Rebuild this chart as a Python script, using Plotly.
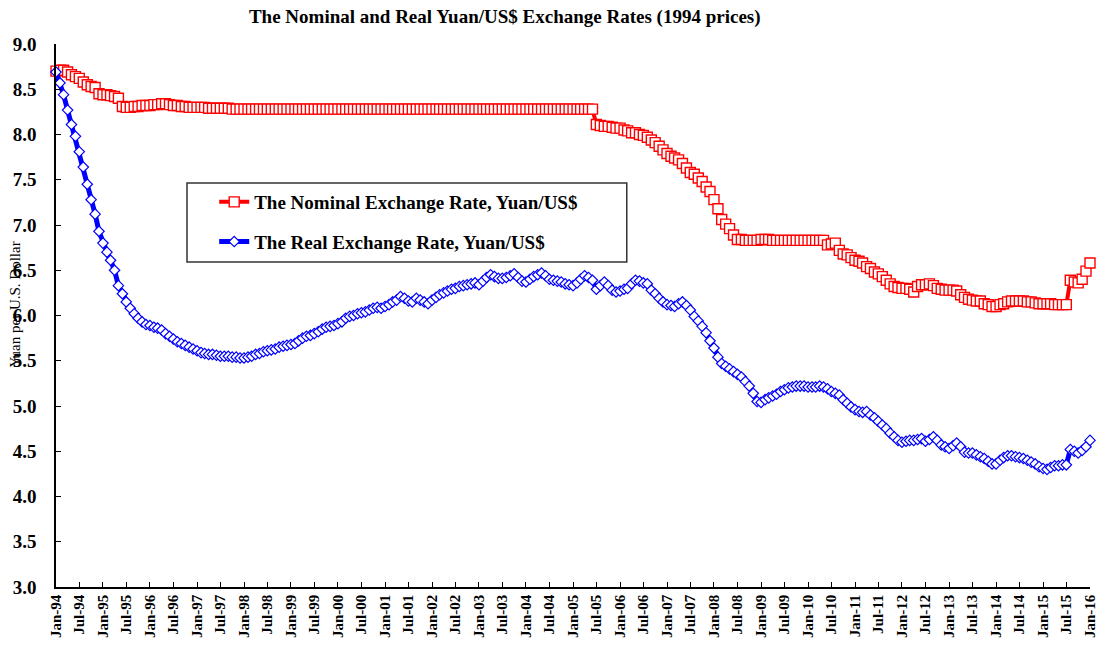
import pandas as pd
import plotly.graph_objects as go

# monthly readings, Jan-94 .. Jan-16 (one row per year)
nominal_rate = [
    8.70, 8.71, 8.71, 8.69, 8.66, 8.64, 8.62, 8.58, 8.55, 8.53, 8.52, 8.45,  # 1994
    8.44, 8.44, 8.43, 8.42, 8.40, 8.31, 8.30, 8.30, 8.31, 8.31, 8.32, 8.32,  # 1995
    8.32, 8.33, 8.33, 8.34, 8.34, 8.33, 8.32, 8.32, 8.31, 8.31, 8.30, 8.30,  # 1996
    8.30, 8.30, 8.30, 8.29, 8.29, 8.29, 8.29, 8.29, 8.29, 8.28, 8.28, 8.28,  # 1997
    8.28, 8.28, 8.28, 8.28, 8.28, 8.28, 8.28, 8.28, 8.28, 8.28, 8.28, 8.28,  # 1998
    8.28, 8.28, 8.28, 8.28, 8.28, 8.28, 8.28, 8.28, 8.28, 8.28, 8.28, 8.28,  # 1999
    8.28, 8.28, 8.28, 8.28, 8.28, 8.28, 8.28, 8.28, 8.28, 8.28, 8.28, 8.28,  # 2000
    8.28, 8.28, 8.28, 8.28, 8.28, 8.28, 8.28, 8.28, 8.28, 8.28, 8.28, 8.28,  # 2001
    8.28, 8.28, 8.28, 8.28, 8.28, 8.28, 8.28, 8.28, 8.28, 8.28, 8.28, 8.28,  # 2002
    8.28, 8.28, 8.28, 8.28, 8.28, 8.28, 8.28, 8.28, 8.28, 8.28, 8.28, 8.28,  # 2003
    8.28, 8.28, 8.28, 8.28, 8.28, 8.28, 8.28, 8.28, 8.28, 8.28, 8.28, 8.28,  # 2004
    8.28, 8.28, 8.28, 8.28, 8.28, 8.28, 8.11, 8.10, 8.09, 8.09, 8.08, 8.07,  # 2005
    8.07, 8.05, 8.04, 8.02, 8.02, 8.00, 7.99, 7.97, 7.94, 7.91, 7.87, 7.83,  # 2006
    7.79, 7.76, 7.74, 7.72, 7.68, 7.63, 7.58, 7.56, 7.52, 7.48, 7.42, 7.37,  # 2007
    7.28, 7.18, 7.06, 7.01, 6.96, 6.89, 6.84, 6.84, 6.83, 6.83, 6.83, 6.83,  # 2008
    6.84, 6.84, 6.84, 6.83, 6.83, 6.83, 6.83, 6.83, 6.83, 6.83, 6.83, 6.83,  # 2009
    6.83, 6.83, 6.83, 6.83, 6.83, 6.78, 6.79, 6.80, 6.72, 6.68, 6.67, 6.64,  # 2010
    6.61, 6.60, 6.58, 6.54, 6.52, 6.48, 6.46, 6.43, 6.39, 6.35, 6.32, 6.31,  # 2011
    6.30, 6.30, 6.29, 6.26, 6.32, 6.34, 6.34, 6.35, 6.33, 6.30, 6.29, 6.28,  # 2012
    6.28, 6.28, 6.27, 6.23, 6.20, 6.18, 6.17, 6.16, 6.16, 6.13, 6.12, 6.10,  # 2013
    6.10, 6.12, 6.13, 6.15, 6.16, 6.16, 6.16, 6.16, 6.15, 6.15, 6.14, 6.13,  # 2014
    6.13, 6.13, 6.13, 6.12, 6.12, 6.12, 6.12, 6.39, 6.37, 6.36, 6.40, 6.49,  # 2015
    6.58,                                                                    # 2016
]

real_rate = [
    8.69, 8.57, 8.44, 8.27, 8.11, 7.98, 7.81, 7.64, 7.45, 7.28, 7.12, 6.93,  # 1994
    6.80, 6.70, 6.61, 6.50, 6.33, 6.24, 6.15, 6.08, 6.02, 5.97, 5.93, 5.90,  # 1995
    5.89, 5.87, 5.86, 5.84, 5.80, 5.77, 5.74, 5.71, 5.69, 5.67, 5.65, 5.63,  # 1996
    5.61, 5.59, 5.58, 5.57, 5.57, 5.56, 5.55, 5.55, 5.55, 5.54, 5.54, 5.53,  # 1997
    5.53, 5.54, 5.55, 5.57, 5.58, 5.60, 5.61, 5.62, 5.63, 5.65, 5.66, 5.67,  # 1998
    5.68, 5.69, 5.72, 5.75, 5.77, 5.78, 5.80, 5.82, 5.85, 5.87, 5.88, 5.89,  # 1999
    5.91, 5.93, 5.97, 5.99, 6.00, 6.02, 6.03, 6.04, 6.06, 6.08, 6.09, 6.08,  # 2000
    6.10, 6.12, 6.15, 6.17, 6.21, 6.19, 6.16, 6.15, 6.19, 6.17, 6.15, 6.13,  # 2001
    6.17, 6.20, 6.23, 6.25, 6.27, 6.29, 6.30, 6.32, 6.33, 6.34, 6.35, 6.36,  # 2002
    6.34, 6.38, 6.42, 6.45, 6.43, 6.41, 6.41, 6.42, 6.44, 6.46, 6.42, 6.38,  # 2003
    6.37, 6.40, 6.43, 6.45, 6.47, 6.44, 6.40, 6.39, 6.38, 6.37, 6.35, 6.34,  # 2004
    6.33, 6.36, 6.40, 6.44, 6.42, 6.39, 6.29, 6.33, 6.37, 6.33, 6.28, 6.26,  # 2005
    6.27, 6.29, 6.30, 6.35, 6.39, 6.38, 6.36, 6.35, 6.28, 6.24, 6.19, 6.15,  # 2006
    6.12, 6.11, 6.10, 6.13, 6.15, 6.11, 6.06, 5.99, 5.94, 5.88, 5.81, 5.72,  # 2007
    5.64, 5.54, 5.47, 5.44, 5.41, 5.38, 5.35, 5.32, 5.27, 5.22, 5.14, 5.05,  # 2008
    5.04, 5.07, 5.09, 5.11, 5.13, 5.16, 5.18, 5.20, 5.21, 5.22, 5.22, 5.22,  # 2009
    5.21, 5.21, 5.21, 5.22, 5.21, 5.19, 5.16, 5.14, 5.12, 5.07, 5.03, 4.99,  # 2010
    4.96, 4.94, 4.93, 4.94, 4.90, 4.87, 4.83, 4.79, 4.75, 4.70, 4.66, 4.62,  # 2011
    4.60, 4.61, 4.62, 4.62, 4.63, 4.64, 4.61, 4.63, 4.66, 4.62, 4.57, 4.55,  # 2012
    4.53, 4.56, 4.59, 4.55, 4.49, 4.48, 4.48, 4.46, 4.44, 4.42, 4.39, 4.36,  # 2013
    4.36, 4.40, 4.43, 4.45, 4.45, 4.44, 4.43, 4.42, 4.40, 4.38, 4.36, 4.33,  # 2014
    4.31, 4.30, 4.32, 4.34, 4.34, 4.35, 4.35, 4.52, 4.50, 4.48, 4.51, 4.55,  # 2015
    4.62,                                                                    # 2016
]

months = pd.date_range("1994-01-01", periods=len(nominal_rate), freq="MS")

TITLE = "The Nominal and Real Yuan/US$ Exchange Rates (1994 prices)"
Y_TITLE = "Yuan per U.S. Dollar"
SERIF = "Liberation Serif"

fig = go.Figure()
fig.add_trace(go.Scatter(
    x=months, y=nominal_rate, name="The Nominal Exchange Rate, Yuan/US$",
    mode="lines+markers", cliponaxis=False, legendgroup="a",
    line=dict(color="#ff0000", width=4),
    marker=dict(symbol="square", size=10, color="white", line=dict(color="#ff0000", width=1.4)),
))
fig.add_trace(go.Scatter(
    x=months, y=real_rate, name="The Real Exchange Rate, Yuan/US$",
    mode="lines+markers", cliponaxis=False, legendgroup="b",
    line=dict(color="#0000ff", width=5),
    marker=dict(symbol="diamond", size=8, color="white", line=dict(color="#0000ff", width=1.2)),
))

# legend frame
fig.add_shape(type="rect", xref="paper", yref="paper", x0=0.1267, x1=0.552, y0=0.5985, y1=0.744,
              line=dict(color="#333333", width=1.5), fillcolor="rgba(0,0,0,0)")

fig.add_annotation(text=Y_TITLE, xref="paper", yref="paper", x=-0.0397, y=0.52,
                   xanchor="center", yanchor="middle", textangle=-90, showarrow=False,
                   font=dict(family=SERIF, size=15, color="black"))

fig.update_layout(
    width=1105, height=649,
    margin=dict(l=56, r=15, t=44, b=62),
    paper_bgcolor="white", plot_bgcolor="white",
    font=dict(family=SERIF, color="black"),
    title=dict(text=f"<b>{TITLE}</b>", xref="paper", x=0.434, xanchor="center",
               y=0.975, yanchor="middle", font=dict(family=SERIF, size=19, color="black")),
    legend=dict(x=0.153, y=0.744, xanchor="left", yanchor="top", bgcolor="rgba(0,0,0,0)",
                tracegroupgap=12, traceorder="grouped",
                font=dict(family=SERIF, size=19, color="black", weight="bold")),
)
fig.update_xaxes(
    type="date", range=[months[0], months[-1]], tick0="1994-01-01", dtick="M6",
    tickformat="%b-%y", tickangle=-90, ticks="inside", ticklen=5, tickcolor="black",
    showline=True, linecolor="black", linewidth=1.5, showgrid=False, zeroline=False,
    automargin=False, tickfont=dict(family=SERIF, size=15, color="black", weight="bold"),
)
fig.update_yaxes(
    range=[3.0, 9.0], dtick=0.5, tickformat=".1f", ticks="inside", ticklen=5, tickcolor="black",
    showline=True, linecolor="black", linewidth=1.5, showgrid=False, zeroline=False,
    automargin=False, ticklabelstandoff=14,
    tickfont=dict(family=SERIF, size=19, color="black", weight="bold"),
)

# drop the default body margin so the figure sits at the window corner
fig.write_html("out.html", config={"displayModeBar": False},
               post_script="document.body.style.margin='0';")
